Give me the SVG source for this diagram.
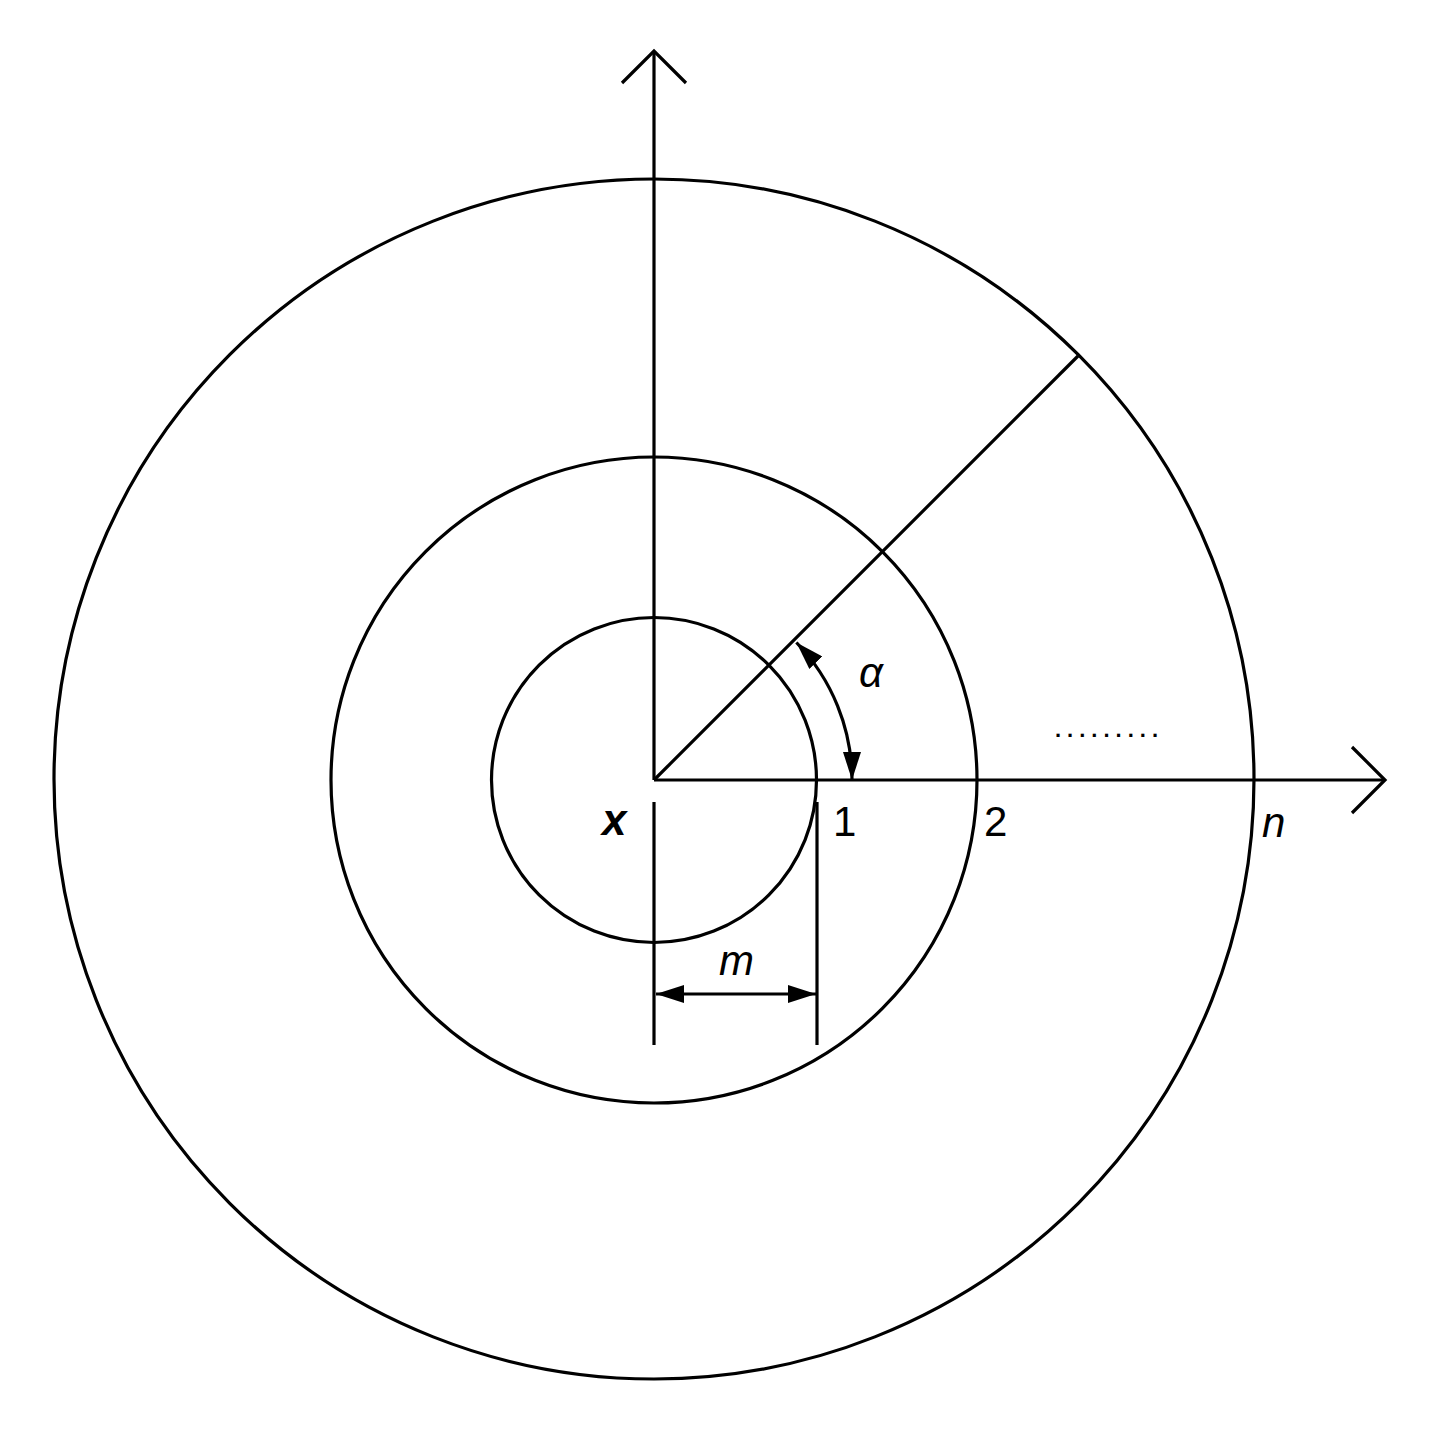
<svg xmlns="http://www.w3.org/2000/svg" width="1430" height="1433" viewBox="0 0 1430 1433">
<style>
.ln{fill:none;stroke:#000;stroke-width:3.2}
.t{font-family:"Liberation Sans",Arial,sans-serif;font-size:42px;fill:#000}
.it{font-style:italic}
</style>
<defs>
<marker id="ah" viewBox="0 0 28 18" refX="28" refY="9" markerWidth="28" markerHeight="18" markerUnits="userSpaceOnUse" orient="auto-start-reverse" preserveAspectRatio="none">
<path d="M0,0 L28,9 L0,18 z" fill="#000"/>
</marker>
</defs>
<rect width="1430" height="1433" fill="#fff"/>
<g id="circles">
<circle id="circle-1" class="ln" cx="654" cy="780" r="162.5"/>
<circle id="circle-2" class="ln" cx="654" cy="780" r="323"/>
<circle id="circle-n" class="ln" cx="654" cy="779" r="600"/>
</g>
<g id="connectors">
<path id="y-axis" class="ln" d="M654 780 L654 52"/>
<polyline class="ln" points="622,83 654,51 686,83"/>
<path id="x-axis" class="ln" d="M654 780 L1384 780"/>
<polyline class="ln" points="1352,747 1385,780 1352,813"/>
<path id="diagonal" class="ln" d="M654 780 L1078 356"/>
<path id="angle-arc" class="ln" d="M852 780 A198 198 0 0 0 796.4 642.5" marker-start="url(#ah)" marker-end="url(#ah)"/>
<path class="ln" d="M654 802 L654 1045"/>
<path class="ln" d="M817 802 L817 1045"/>
<path id="dim-m" class="ln" d="M656 994 L816 994" marker-start="url(#ah)" marker-end="url(#ah)"/>
</g>
<g id="labels">
<text class="t it" x="602" y="835" font-weight="bold" style="font-size:44px">x</text>
<text class="t" x="833" y="836">1</text>
<text class="t" x="984" y="836">2</text>
<text class="t it" x="1262" y="837">n</text>
<text class="t it" x="859" y="687">α</text>
<text class="t it" x="719" y="975">m</text>
<text class="t" x="1055" y="737" font-weight="bold" style="font-size:22px;letter-spacing:6px">.........</text>
</g>
</svg>
